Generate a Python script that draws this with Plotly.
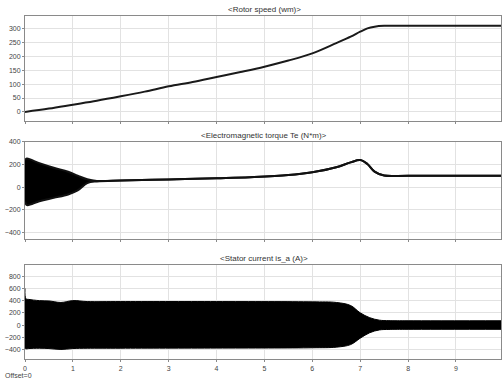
import plotly.graph_objects as go

# ---- data (time in s) ----
speed_t = [0, 0.5, 1, 1.5, 2, 2.5, 3, 3.5, 4, 4.5, 5, 5.5, 6, 6.5, 6.8, 7.0, 7.15, 7.3, 7.5, 8, 9, 10]
speed_wm = [0, 12, 26, 40, 56, 73, 92, 108, 126, 144, 163, 185, 211, 248, 271, 289, 301, 307, 310, 310, 310, 310]

torque_t = [0, 0.04, 0.3, 0.6, 0.9, 1.1, 1.3, 1.5, 2, 3, 4, 4.7, 5.5, 6, 6.5, 6.8, 7.0, 7.15, 7.3, 7.5, 8, 10]
torque_upper = [240, 250, 210, 170, 135, 100, 68, 54, 58, 67, 78, 87, 105, 130, 174, 217, 237, 203, 136, 101, 100, 100]
torque_lower = [-130, -158, -125, -95, -65, -30, 35, 50, 58, 67, 78, 87, 105, 130, 174, 217, 237, 203, 136, 101, 100, 100]

current_t = [0, 0.02, 0.08, 0.3, 0.5, 0.75, 1.0, 1.3, 2, 4, 6, 6.5, 6.8, 7.0, 7.2, 7.4, 7.6, 8, 10]
current_upper = [600, 430, 420, 400, 395, 370, 400, 385, 385, 385, 380, 370, 320, 200, 120, 80, 72, 70, 70]
current_lower = [-380, -390, -385, -380, -385, -400, -385, -380, -380, -378, -372, -362, -320, -215, -125, -80, -72, -70, -70]

titles = ["<Rotor speed (wm)>", "<Electromagnetic torque Te (N*m)>", "<Stator current is_a (A)>"]
x_ticks = list(range(0, 10))

W, H = 502, 381
ML = 25
fig = go.Figure()

# rotor speed
fig.add_trace(go.Scatter(x=speed_t, y=speed_wm, mode="lines", line=dict(color="#1a1a1a", width=2, shape="spline"),
                         xaxis="x", yaxis="y", showlegend=False))

# electromagnetic torque (oscillation envelope filled)
fig.add_trace(go.Scatter(x=torque_t, y=torque_lower, mode="lines", line=dict(color="#111", width=2, shape="spline"),
                         xaxis="x2", yaxis="y2", showlegend=False))
fig.add_trace(go.Scatter(x=torque_t, y=torque_upper, mode="lines", line=dict(color="#111", width=2, shape="spline"),
                         fill="tonexty", fillcolor="black", xaxis="x2", yaxis="y2", showlegend=False))

# stator current (oscillation envelope filled)
fig.add_trace(go.Scatter(x=current_t, y=current_lower, mode="lines", line=dict(color="black", width=1, shape="spline"),
                         xaxis="x3", yaxis="y3", showlegend=False))
fig.add_trace(go.Scatter(x=current_t, y=current_upper, mode="lines", line=dict(color="black", width=1, shape="spline"),
                         fill="tonexty", fillcolor="black", xaxis="x3", yaxis="y3", showlegend=False))

def ydom(top_px, bot_px):
    return [1 - bot_px / H, 1 - top_px / H]

tick_font = dict(family="Liberation Sans, Arial", size=7, color="#444")
axis_common = dict(showline=True, linecolor="#8a8a8a", linewidth=1, mirror=True,
                   showgrid=True, gridcolor="#e2e2e2", gridwidth=1, zeroline=False,
                   ticks="outside", ticklen=2, tickcolor="#8a8a8a", tickfont=tick_font)

xr = [0, 9.94]
fig.update_layout(
    width=W, height=H,
    margin=dict(l=ML, r=0, t=0, b=0),
    paper_bgcolor="white", plot_bgcolor="white",
    xaxis=dict(range=xr, tickvals=x_ticks, showticklabels=False, anchor="y", **axis_common),
    xaxis2=dict(range=xr, tickvals=x_ticks, showticklabels=False, anchor="y2", **axis_common),
    xaxis3=dict(range=xr, tickvals=x_ticks, showticklabels=True, anchor="y3", **axis_common),
    yaxis=dict(domain=ydom(12, 118), range=[-32, 346], tickvals=[0, 50, 100, 150, 200, 250, 300], anchor="x", **axis_common),
    yaxis2=dict(domain=ydom(139, 237), range=[-452, 400], tickvals=[-400, -200, 0, 200, 400], anchor="x2", **axis_common),
    yaxis3=dict(domain=ydom(264, 359), range=[-560, 980], tickvals=[-400, -200, 0, 200, 400, 600, 800], anchor="x3", **axis_common),
)

title_font = dict(family="Liberation Sans, Arial", size=8, color="#333")
for i, (txt, top) in enumerate(zip(titles, [12, 139, 264])):
    fig.add_annotation(text=txt, x=5, xref="x" if i == 0 else f"x{i+1}", y=1 - top / H, yref="paper",
                       yanchor="bottom", showarrow=False, font=title_font)

fig.add_annotation(text="Offset=0", x=(3 - ML) / (W - ML), xref="paper", y=1 - 375 / H, yref="paper",
                   xanchor="left", yanchor="middle", showarrow=False,
                   font=dict(family="Liberation Sans, Arial", size=7, color="#444"))

fig.write_html("out.html")
